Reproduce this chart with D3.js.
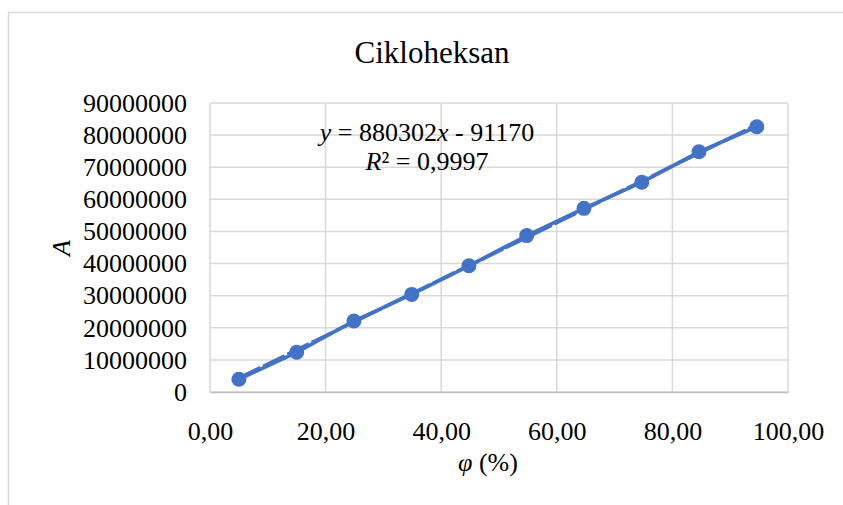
<!DOCTYPE html>
<html>
<head>
<meta charset="utf-8">
<script src="https://cdn.jsdelivr.net/npm/d3@7"></script>
<style>
  html, body { margin: 0; padding: 0; background: #fff; }
  svg { display: block; font-family: "Liberation Serif", "Times New Roman", serif; }
</style>
</head>
<body>
<svg id="chart" width="843" height="505"></svg>
<script>
// Volume fraction of cyclohexane (%) and measured peak area
const phi = [5.0, 15.0, 24.9, 34.9, 44.8, 54.8, 64.7, 74.7, 84.6, 94.6];
const area = [3950000, 12360000, 22100000, 30400000, 39300000, 48700000, 57200000, 65300000, 74800000, 82600000];

// Linear fit reported on the chart
const slope = 880302;
const intercept = -91170;
const rSquared = "0,9997";

const xTicks = [0, 20, 40, 60, 80, 100];
const yTicks = [0, 10000000, 20000000, 30000000, 40000000, 50000000, 60000000, 70000000, 80000000, 90000000];

const svg = d3.select("#chart");
const W = 843, H = 505;
const plot = { left: 210, right: 788, top: 103, bottom: 392 };
const blue = "#4472C4";
const grid = "#d9d9d9";

// Chart-area frame
svg.append("rect")
  .attr("x", 8.5).attr("y", 12.5)
  .attr("width", W + 20).attr("height", H + 20)
  .attr("fill", "#fff").attr("stroke", grid).attr("stroke-width", 1.5);

const x = d3.scaleLinear().domain([0, 100]).range([plot.left, plot.right]);
const y = d3.scaleLinear().domain([0, 90000000]).range([plot.bottom, plot.top]);

const fmtX = v => d3.format(".2f")(v).replace(".", ",");

// Gridlines
svg.append("g").selectAll("line.h").data(yTicks).join("line")
  .attr("x1", plot.left).attr("x2", plot.right)
  .attr("y1", d => y(d)).attr("y2", d => y(d))
  .attr("stroke", grid).attr("stroke-width", 1.5);
svg.append("g").selectAll("line.v").data(xTicks).join("line")
  .attr("x1", d => x(d)).attr("x2", d => x(d))
  .attr("y1", plot.top).attr("y2", plot.bottom)
  .attr("stroke", grid).attr("stroke-width", 1.5);

// Axes (labels only; lines are the gridlines above)
const xAxis = svg.append("g")
  .attr("transform", `translate(0,${plot.bottom})`)
  .call(d3.axisBottom(x).tickValues(xTicks).tickFormat(fmtX).tickSize(0).tickPadding(30));
xAxis.select(".domain").attr("stroke", "#bfbfbf").attr("stroke-width", 1.5);
xAxis.selectAll("text").attr("font-size", 26).attr("fill", "#000")
  .attr("font-family", "Liberation Serif, serif");

const yAxis = svg.append("g")
  .attr("transform", `translate(${plot.left},0)`)
  .call(d3.axisLeft(y).tickValues(yTicks).tickFormat(d3.format("d")).tickSize(0).tickPadding(23));
yAxis.select(".domain").remove();
yAxis.selectAll("text").attr("font-size", 26).attr("fill", "#000")
  .attr("font-family", "Liberation Serif, serif");

// Data series line
const line = d3.line().x((d, i) => x(phi[i])).y(d => y(d));
svg.append("path").datum(area)
  .attr("d", line)
  .attr("fill", "none").attr("stroke", blue).attr("stroke-width", 3.6);

// Linear trendline over the data range
const xr = d3.extent(phi);
svg.append("line")
  .attr("x1", x(xr[0])).attr("y1", y(slope * xr[0] + intercept))
  .attr("x2", x(xr[1])).attr("y2", y(slope * xr[1] + intercept))
  .attr("stroke", blue).attr("stroke-width", 3.6)
  .attr("stroke-dasharray", "24,3");

// Markers
svg.append("g").selectAll("circle").data(area).join("circle")
  .attr("cx", (d, i) => x(phi[i])).attr("cy", d => y(d))
  .attr("r", 7.5).attr("fill", blue);

// Title
svg.append("text")
  .attr("x", 432).attr("y", 63)
  .attr("text-anchor", "middle").attr("font-size", 31).attr("fill", "#000")
  .text("Cikloheksan");

// Trendline equation
const eq = svg.append("text")
  .attr("x", 427).attr("y", 141)
  .attr("text-anchor", "middle").attr("font-size", 26).attr("fill", "#000");
eq.append("tspan").attr("font-style", "italic").text("y");
eq.append("tspan").text(" = " + slope + "");
eq.append("tspan").attr("font-style", "italic").text("x");
eq.append("tspan").text(" - " + Math.abs(intercept));

const r2 = svg.append("text")
  .attr("x", 427).attr("y", 170)
  .attr("text-anchor", "middle").attr("font-size", 26).attr("fill", "#000");
r2.append("tspan").attr("font-style", "italic").text("R");
r2.append("tspan").text("² = " + rSquared);

// Axis titles
svg.append("text")
  .attr("transform", "translate(70,248) rotate(-90)")
  .attr("text-anchor", "middle").attr("font-size", 26).attr("font-style", "italic")
  .attr("fill", "#000").text("A");

const xt = svg.append("text")
  .attr("x", 488).attr("y", 471)
  .attr("text-anchor", "middle").attr("font-size", 26).attr("fill", "#000");
xt.append("tspan").attr("font-style", "italic").text("φ");
xt.append("tspan").text(" (%)");
</script>
</body>
</html>
